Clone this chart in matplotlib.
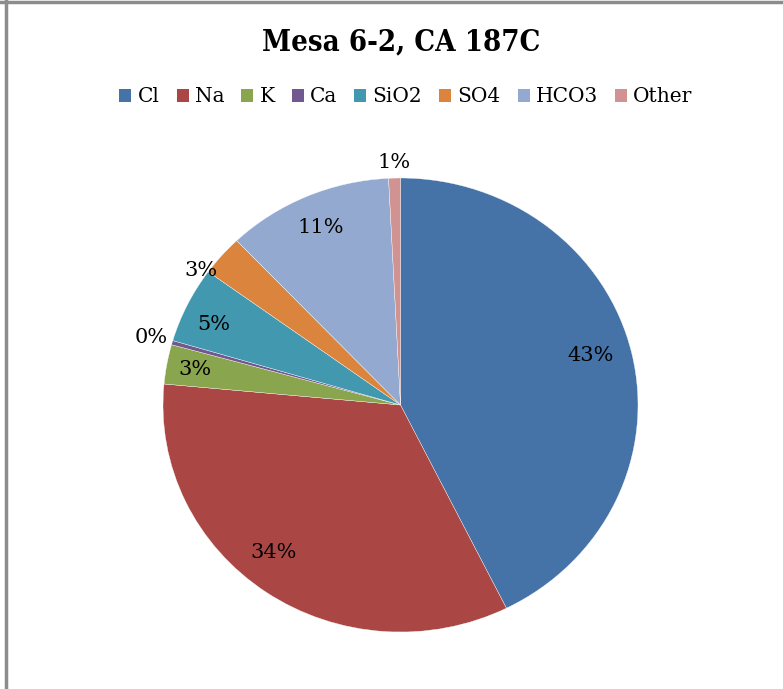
import matplotlib
matplotlib.use("Agg")
import matplotlib.pyplot as plt
from matplotlib.patches import Patch
import numpy as np

# ion shares (%), clockwise from 12 o'clock
ions = ["Cl", "Na", "K", "Ca", "SiO2", "SO4", "HCO3", "Other"]
shares = [42.6, 33.8, 2.8, 0.3, 5.4, 2.9, 11.3, 0.8]
pct_labels = ["43%", "34%", "3%", "0%", "5%", "3%", "11%", "1%"]
colors = ["#4572A7", "#AA4643", "#89A54E", "#71588F",
          "#4198AF", "#DB843D", "#93A9CF", "#D19392"]
# label radius (inside for big wedges, outside for thin ones) and angle nudge
label_r = [0.83, 0.84, 0.88, 1.09, 0.86, 1.03, 0.85, 1.07]
label_dang = [2, -5, 0, 0, 2, 6, 0, 0]

plt.rcParams["font.family"] = ["DejaVu Serif"]

W, H = 783, 689
fig = plt.figure(figsize=(W / 100, H / 100), dpi=100)

# pie area: x 163..638 px, y 178..632 px (slightly wider than tall)
ax = fig.add_axes([163 / W, 1 - 632 / H, 475 / W, 454 / H])
wedges, _ = ax.pie(shares, colors=colors, startangle=90, counterclock=False,
                   wedgeprops=dict(edgecolor="white", linewidth=0.25))
ax.set_aspect("auto")
ax.set_xlim(-1, 1)
ax.set_ylim(-1, 1)
ax.axis("off")

for w, lab, r, da in zip(wedges, pct_labels, label_r, label_dang):
    ang = np.deg2rad((w.theta1 + w.theta2) / 2 + da)
    ax.text(r * np.cos(ang), r * np.sin(ang), lab, ha="center", va="center",
            fontsize=15, color="black", clip_on=False)

fig.text(401 / W, 1 - 42 / H, "Mesa 6-2, CA 187C", ha="center", va="center",
         fontsize=21, fontweight="bold", family=["DejaVu Serif"],
         fontstretch="condensed")

handles = [Patch(facecolor=c, edgecolor="none") for c in colors]
fig.legend(handles, ions, loc="center", bbox_to_anchor=(406 / W, 1 - 97 / H),
           ncol=8, frameon=False, fontsize=14.5, handlelength=0.6, handleheight=0.6,
           handletextpad=0.3, columnspacing=0.85)

# chart frame: only the top and left edges show
fig.add_artist(plt.Line2D([0, 1], [1 - 2 / H, 1 - 2 / H], color="#8c8c8c", lw=2.5))
fig.add_artist(plt.Line2D([6 / W, 6 / W], [0, 1], color="#8c8c8c", lw=2.5))

fig.savefig("out.png", dpi=100, facecolor="white")
